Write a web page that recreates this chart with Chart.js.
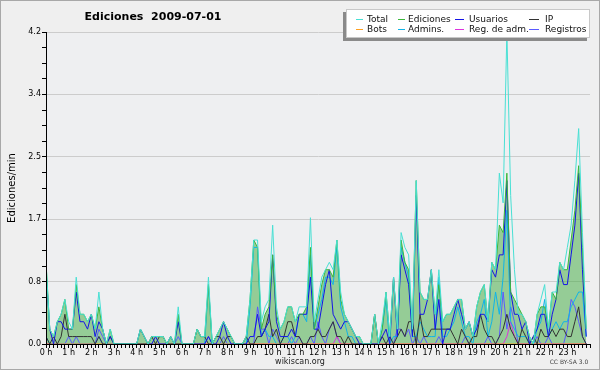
<!DOCTYPE html>
<html>
<head>
<meta charset="utf-8">
<script src="https://cdn.jsdelivr.net/npm/chart.js@4.4.1/dist/chart.umd.min.js"></script>
<style>
  html, body { margin: 0; padding: 0; background: #efefef; }
  canvas { display: block; }
</style>
</head>
<body>
<canvas id="chart" width="600" height="370"></canvas>
<script>
// x axis labels, one per hour (6 slots of 10 min each)
const hourLabels = ['0 h', '1 h', '2 h', '3 h', '4 h', '5 h', '6 h', '7 h', '8 h', '9 h', '10 h', '11 h',
  '12 h', '13 h', '14 h', '15 h', '16 h', '17 h', '18 h', '19 h', '20 h', '21 h', '22 h', '23 h'];
const yTickLabels = ['0.0', '0.8', '1.7', '2.5', '3.4', '4.2'];
const yMax = 4.2;

// edits per minute, 10 minute slots, one row per hour
const total = [
  1.1, 0.2, 0.1, 0.3, 0.4, 0.6,
  0.3, 0.2, 0.9, 0.4, 0.4, 0.3,
  0.4, 0.2, 0.7, 0.2, 0.0, 0.2,
  0.0, 0.0, 0.0, 0.0, 0.0, 0.0,
  0.0, 0.2, 0.1, 0.0, 0.1, 0.1,
  0.1, 0.1, 0.0, 0.1, 0.0, 0.5,
  0.0, 0.0, 0.0, 0.0, 0.2, 0.1,
  0.1, 0.9, 0.0, 0.1, 0.2, 0.3,
  0.2, 0.1, 0.0, 0.0, 0.0, 0.1,
  0.6, 1.4, 1.4, 0.3, 0.5, 0.6,
  1.6, 0.5, 0.2, 0.3, 0.5, 0.5,
  0.3, 0.5, 0.5, 0.5, 1.7, 0.3,
  0.6, 0.9, 1.0, 1.1, 1.0, 1.4,
  0.7, 0.4, 0.3, 0.2, 0.1, 0.1,
  0.0, 0.0, 0.0, 0.4, 0.0, 0.3,
  0.7, 0.1, 0.9, 0.2, 1.5, 1.3,
  1.2, 0.2, 2.2, 0.7, 0.6, 0.6,
  1.0, 0.4, 1.0, 0.3, 0.4, 0.4,
  0.5, 0.6, 0.6, 0.2, 0.3, 0.1,
  0.5, 0.7, 0.8, 0.3, 1.1, 1.0,
  2.3, 1.9, 4.2, 2.0, 1.0, 0.4,
  0.4, 0.3, 0.1, 0.0, 0.4, 0.6,
  0.8, 0.2, 0.7, 0.7, 1.1, 1.0,
  1.3, 1.6, 2.2, 2.9, 1.5, 0.2
];
const ediciones = [
  1.1, 0.2, 0.1, 0.3, 0.4, 0.6,
  0.2, 0.2, 0.8, 0.4, 0.4, 0.3,
  0.4, 0.2, 0.5, 0.2, 0.0, 0.2,
  0.0, 0.0, 0.0, 0.0, 0.0, 0.0,
  0.0, 0.2, 0.1, 0.0, 0.1, 0.1,
  0.1, 0.1, 0.0, 0.1, 0.0, 0.4,
  0.0, 0.0, 0.0, 0.0, 0.2, 0.1,
  0.1, 0.8, 0.0, 0.1, 0.2, 0.3,
  0.2, 0.1, 0.0, 0.0, 0.0, 0.1,
  0.6, 1.4, 1.3, 0.2, 0.4, 0.5,
  1.2, 0.4, 0.2, 0.3, 0.5, 0.5,
  0.3, 0.4, 0.4, 0.5, 1.3, 0.2,
  0.5, 0.8, 1.0, 1.0, 0.9, 1.4,
  0.6, 0.4, 0.3, 0.2, 0.1, 0.1,
  0.0, 0.0, 0.0, 0.4, 0.0, 0.2,
  0.7, 0.1, 0.9, 0.2, 1.4, 1.1,
  1.0, 0.2, 2.2, 0.7, 0.6, 0.6,
  1.0, 0.4, 0.8, 0.3, 0.4, 0.4,
  0.5, 0.6, 0.6, 0.2, 0.3, 0.1,
  0.5, 0.7, 0.8, 0.3, 1.1, 1.0,
  1.6, 1.5, 2.3, 0.7, 0.6, 0.5,
  0.4, 0.3, 0.1, 0.0, 0.4, 0.5,
  0.5, 0.2, 0.7, 0.6, 1.1, 1.0,
  1.0, 1.4, 1.8, 2.4, 1.3, 0.2
];
const usuarios = [
  1.0, 0.2, 0.0, 0.3, 0.3, 0.2,
  0.2, 0.2, 0.7, 0.3, 0.3, 0.2,
  0.4, 0.1, 0.3, 0.2, 0.0, 0.1,
  0.0, 0.0, 0.0, 0.0, 0.0, 0.0,
  0.0, 0.2, 0.1, 0.0, 0.0, 0.1,
  0.0, 0.0, 0.0, 0.1, 0.0, 0.3,
  0.0, 0.0, 0.0, 0.0, 0.0, 0.0,
  0.0, 0.1, 0.0, 0.0, 0.1, 0.3,
  0.1, 0.0, 0.0, 0.0, 0.0, 0.0,
  0.1, 0.1, 0.4, 0.1, 0.2, 0.3,
  1.2, 0.3, 0.1, 0.1, 0.1, 0.2,
  0.1, 0.4, 0.4, 0.4, 0.9, 0.2,
  0.2, 0.5, 0.8, 1.0, 0.4, 0.3,
  0.2, 0.3, 0.3, 0.2, 0.1, 0.0,
  0.0, 0.0, 0.0, 0.0, 0.0, 0.1,
  0.2, 0.0, 0.9, 0.1, 1.2, 1.0,
  0.8, 0.1, 2.0, 0.4, 0.4, 0.6,
  1.0, 0.2, 0.6, 0.0, 0.2, 0.2,
  0.4, 0.6, 0.4, 0.2, 0.3, 0.1,
  0.2, 0.4, 0.4, 0.3, 1.0, 0.9,
  1.2, 1.2, 2.2, 0.7, 0.4, 0.4,
  0.2, 0.3, 0.0, 0.1, 0.2, 0.4,
  0.4, 0.1, 0.4, 0.6, 1.0, 0.8,
  0.8, 1.2, 1.6, 2.3, 1.0, 0.1
];
const ip = [
  0.1, 0.0, 0.1, 0.0, 0.1, 0.4,
  0.1, 0.1, 0.1, 0.1, 0.1, 0.1,
  0.1, 0.0, 0.1, 0.0, 0.0, 0.1,
  0.0, 0.0, 0.0, 0.0, 0.0, 0.0,
  0.0, 0.0, 0.0, 0.0, 0.1, 0.0,
  0.1, 0.1, 0.0, 0.0, 0.0, 0.0,
  0.0, 0.0, 0.0, 0.0, 0.2, 0.1,
  0.1, 0.0, 0.0, 0.1, 0.1, 0.0,
  0.1, 0.1, 0.0, 0.0, 0.0, 0.1,
  0.0, 0.0, 0.1, 0.1, 0.2, 0.4,
  0.1, 0.2, 0.0, 0.1, 0.3, 0.3,
  0.1, 0.1, 0.0, 0.0, 0.1, 0.1,
  0.2, 0.1, 0.1, 0.2, 0.3, 0.1,
  0.1, 0.0, 0.1, 0.0, 0.0, 0.0,
  0.0, 0.0, 0.0, 0.4, 0.0, 0.1,
  0.0, 0.1, 0.0, 0.1, 0.2, 0.1,
  0.3, 0.3, 0.0, 0.4, 0.1, 0.1,
  0.2, 0.2, 0.2, 0.2, 0.2, 0.2,
  0.1, 0.0, 0.2, 0.1, 0.0, 0.1,
  0.1, 0.4, 0.2, 0.1, 0.1, 0.0,
  0.1, 0.2, 0.4, 0.2, 0.1, 0.0,
  0.2, 0.1, 0.0, 0.1, 0.0, 0.2,
  0.1, 0.1, 0.2, 0.1, 0.2, 0.2,
  0.1, 0.1, 0.3, 0.5, 0.1, 0.0
];
const bots = [
  0, 0, 0, 0, 0, 0,  0, 0, 0, 0, 0, 0,  0, 0, 0, 0, 0, 0,  0, 0, 0, 0, 0, 0,
  0, 0, 0, 0, 0, 0,  0, 0, 0, 0, 0, 0,  0, 0, 0, 0, 0, 0,  0, 0, 0, 0, 0, 0,
  0, 0, 0, 0, 0, 0,  0, 0, 0, 0, 0, 0,  0, 0, 0, 0, 0, 0,  0, 0, 0, 0, 0, 0,
  0, 0, 0, 0, 0, 0,  0, 0, 0, 0, 0, 0,  0, 0, 0, 0, 0, 0,  0, 0, 0, 0, 0, 0,
  0, 0, 0, 0, 0, 0,  0, 0, 0, 0, 0, 0,  0, 0, 0, 0, 0, 0,  0, 0, 0, 0, 0, 0,
  0, 0, 0, 0, 0, 0,  0, 0, 0, 0, 0, 0,  0, 0, 0, 0, 0, 0,  0, 0, 0, 0, 0, 0
];
const admins = [
  0.1, 0.0, 0.0, 0.0, 0.0, 0.0,
  0.0, 0.0, 0.0, 0.0, 0.0, 0.0,
  0.0, 0.0, 0.1, 0.0, 0.0, 0.0,
  0.0, 0.0, 0.0, 0.0, 0.0, 0.0,
  0.0, 0.0, 0.0, 0.0, 0.0, 0.0,
  0.0, 0.0, 0.0, 0.0, 0.0, 0.0,
  0.0, 0.0, 0.0, 0.0, 0.0, 0.0,
  0.0, 0.8, 0.0, 0.0, 0.0, 0.0,
  0.0, 0.0, 0.0, 0.0, 0.0, 0.0,
  0.5, 1.3, 1.3, 0.1, 0.2, 0.1,
  0.1, 0.0, 0.0, 0.1, 0.1, 0.0,
  0.1, 0.4, 0.4, 0.3, 1.2, 0.2,
  0.4, 0.6, 0.9, 0.9, 0.8, 1.3,
  0.5, 0.3, 0.1, 0.1, 0.0, 0.0,
  0.0, 0.0, 0.0, 0.0, 0.0, 0.2,
  0.6, 0.0, 0.1, 0.1, 1.3, 1.1,
  0.9, 0.1, 0.1, 0.3, 0.2, 0.1,
  0.1, 0.1, 0.9, 0.1, 0.1, 0.2,
  0.3, 0.5, 0.3, 0.1, 0.1, 0.0,
  0.3, 0.4, 0.6, 0.1, 0.3, 0.7,
  0.4, 0.9, 1.8, 0.3, 0.2, 0.1,
  0.1, 0.1, 0.0, 0.0, 0.2, 0.3,
  0.6, 0.1, 0.2, 0.3, 0.2, 0.3,
  0.3, 0.5, 0.6, 0.7, 0.7, 0.1
];
const regAdm = [
  0, 0, 0, 0, 0, 0,  0, 0, 0, 0, 0, 0,  0, 0, 0.1, 0, 0, 0,  0, 0, 0, 0, 0, 0,
  0, 0, 0, 0, 0, 0,  0, 0, 0, 0, 0, 0,  0, 0, 0, 0, 0, 0,  0, 0, 0, 0, 0, 0,
  0, 0, 0, 0, 0, 0,  0, 0, 0, 0, 0, 0,  0, 0, 0, 0, 0, 0,  0, 0, 0, 0, 0, 0,
  0, 0, 0, 0, 0, 0.1,  0, 0, 0, 0, 0, 0,  0, 0, 0, 0, 0, 0,  0, 0, 0, 0, 0, 0,
  0, 0, 0, 0, 0, 0,  0, 0, 0, 0, 0, 0,  0, 0, 0, 0, 0, 0,  0, 0, 0, 0, 0, 0,
  0, 0, 0.1, 0.3, 0.1, 0,  0, 0, 0, 0, 0, 0,  0, 0, 0, 0, 0, 0,  0, 0, 0, 0, 0, 0
];
const registros = [
  0.0, 0.0, 0.0, 0.0, 0.0, 0.0,
  0.1, 0.0, 0.1, 0.0, 0.0, 0.0,
  0.0, 0.0, 0.2, 0.1, 0.0, 0.0,
  0.0, 0.0, 0.0, 0.0, 0.0, 0.0,
  0.0, 0.0, 0.0, 0.0, 0.0, 0.0,
  0.0, 0.0, 0.0, 0.0, 0.0, 0.1,
  0.0, 0.0, 0.0, 0.0, 0.0, 0.0,
  0.0, 0.1, 0.0, 0.0, 0.0, 0.1,
  0.0, 0.0, 0.0, 0.0, 0.0, 0.0,
  0.0, 0.0, 0.5, 0.2, 0.2, 0.0,
  0.2, 0.1, 0.0, 0.0, 0.0, 0.1,
  0.0, 0.1, 0.0, 0.0, 0.1, 0.0,
  0.3, 0.1, 0.0, 0.2, 0.3, 0.1,
  0.0, 0.0, 0.0, 0.0, 0.0, 0.0,
  0.0, 0.0, 0.0, 0.0, 0.0, 0.0,
  0.0, 0.0, 0.0, 0.2, 0.2, 0.1,
  0.2, 0.0, 0.1, 0.0, 0.1, 0.0,
  0.0, 0.0, 0.1, 0.0, 0.0, 0.0,
  0.0, 0.0, 0.0, 0.1, 0.0, 0.0,
  0.0, 0.0, 0.0, 0.1, 0.0, 0.0,
  0.1, 0.7, 0.2, 0.5, 0.3, 0.0,
  0.0, 0.0, 0.0, 0.0, 0.1, 0.0,
  0.0, 0.1, 0.0, 0.0, 0.0, 0.0,
  0.2, 0.6, 0.5, 0.3, 0.1, 0.0
];

const series = [
  { label: 'Total', data: total, color: '#48e0d4' },
  { label: 'Ediciones', data: ediciones, color: '#3cb83c', fill: 'rgba(60,170,60,0.5)' },
  { label: 'Usuarios', data: usuarios, color: '#1414e6' },
  { label: 'IP', data: ip, color: '#333333' },
  { label: 'Bots', data: bots, color: '#ffa020' },
  { label: 'Admins.', data: admins, color: '#10b4e8' },
  { label: 'Reg. de adm.', data: regAdm, color: '#dd33dd' },
  { label: 'Registros', data: registros, color: '#5a5aff' }
];

const FONT = '"DejaVu Sans", sans-serif';

// background, title, footer texts and the boxed legend
const decor = {
  id: 'decor',
  beforeDraw(chart) {
    const c = chart.ctx, a = chart.chartArea;
    c.save();
    c.fillStyle = '#efefef';
    c.fillRect(0, 0, chart.width, chart.height);
    c.strokeStyle = '#a8a8a8';
    c.strokeRect(0.5, 0.5, chart.width - 1, chart.height - 1);
    c.fillStyle = '#eeeff1';
    c.fillRect(a.left, a.top, a.right - a.left, a.bottom - a.top);
    c.restore();
  },
  afterDraw(chart) {
    const c = chart.ctx;
    c.save();
    c.fillStyle = '#000';
    c.textBaseline = 'middle';
    c.textAlign = 'center';
    c.font = 'bold 11px ' + FONT;
    c.fillText('Ediciones  2009-07-01', 153, 17);
    c.font = '8px ' + FONT;
    c.fillStyle = '#222';
    c.fillText('wikiscan.org', 300, 362);
    c.font = '6px ' + FONT;
    c.fillStyle = '#444';
    c.fillText('CC BY-SA 3.0', 569, 362);

    // legend box with shadow
    c.fillStyle = '#8a8a8a';
    c.fillRect(343, 12, 244, 29);
    c.fillStyle = '#ffffff';
    c.fillRect(346, 9, 244, 29);
    c.strokeStyle = '#c8c8c8';
    c.strokeRect(346.5, 9.5, 243, 28);

    const cols = [[356, 363, 367], [398, 405, 408], [455, 464, 469], [529, 539, 545]];
    c.font = '9px ' + FONT;
    c.textAlign = 'left';
    series.forEach((s, k) => {
      const col = cols[k % 4];
      const y = k < 4 ? 19.5 : 29.5;
      c.strokeStyle = s.color;
      c.lineWidth = 1;
      c.beginPath();
      c.moveTo(col[0], y);
      c.lineTo(col[1], y);
      c.stroke();
      c.fillStyle = '#111';
      c.fillText(s.label, col[2], y);
    });
    c.restore();
  }
};

new Chart(document.getElementById('chart'), {
  type: 'line',
  data: {
    datasets: series.map(s => ({
      label: s.label,
      data: s.data.map((v, i) => ({ x: i, y: v })),
      borderColor: s.color,
      backgroundColor: s.fill || s.color,
      fill: s.fill ? 'origin' : false,
      borderWidth: 1,
      pointRadius: 0,
      tension: 0
    }))
  },
  options: {
    responsive: false,
    animation: false,
    events: [],
    layout: { padding: { top: 32, right: 10, left: 0, bottom: 0 } },
    plugins: {
      legend: { display: false },
      title: { display: false },
      tooltip: { enabled: false },
      filler: { drawTime: 'beforeDatasetsDraw' }
    },
    scales: {
      x: {
        type: 'linear',
        min: 0,
        max: 144,
        afterFit: s => { s.height = 26; },
        afterBuildTicks: s => {
          s.ticks = [];
          for (let k = 0; k <= 144; k++) s.ticks.push({ value: k });
        },
        ticks: {
          autoSkip: false,
          maxRotation: 0,
          padding: 0,
          color: '#000',
          font: { family: FONT, size: 8 },
          callback: v => (v % 6 === 0 && v < 144) ? hourLabels[v / 6] : ''
        },
        grid: { drawOnChartArea: false, drawTicks: true, tickLength: 4, tickColor: '#000' },
        border: { display: true, color: '#000', z: 1 }
      },
      y: {
        min: 0,
        max: yMax,
        afterFit: s => { s.width = 46; },
        afterBuildTicks: s => {
          s.ticks = [];
          for (let k = 0; k <= 20; k++) s.ticks.push({ value: yMax * k / 20 });
        },
        ticks: {
          autoSkip: false,
          padding: 1,
          color: '#000',
          font: { family: FONT, size: 8 },
          callback: (v, i) => i % 4 === 0 ? yTickLabels[i / 4] : ''
        },
        grid: {
          color: ctx => ctx.index % 4 === 0 ? '#cccccc' : 'rgba(0,0,0,0)',
          tickColor: '#000',
          tickLength: 4
        },
        border: { display: true, color: '#000', z: 1 },
        title: {
          display: true,
          text: 'Ediciones/min',
          color: '#000',
          font: { family: FONT, size: 10 },
          padding: { top: 6, bottom: 4 }
        }
      }
    }
  },
  plugins: [decor]
});
</script>
</body>
</html>
